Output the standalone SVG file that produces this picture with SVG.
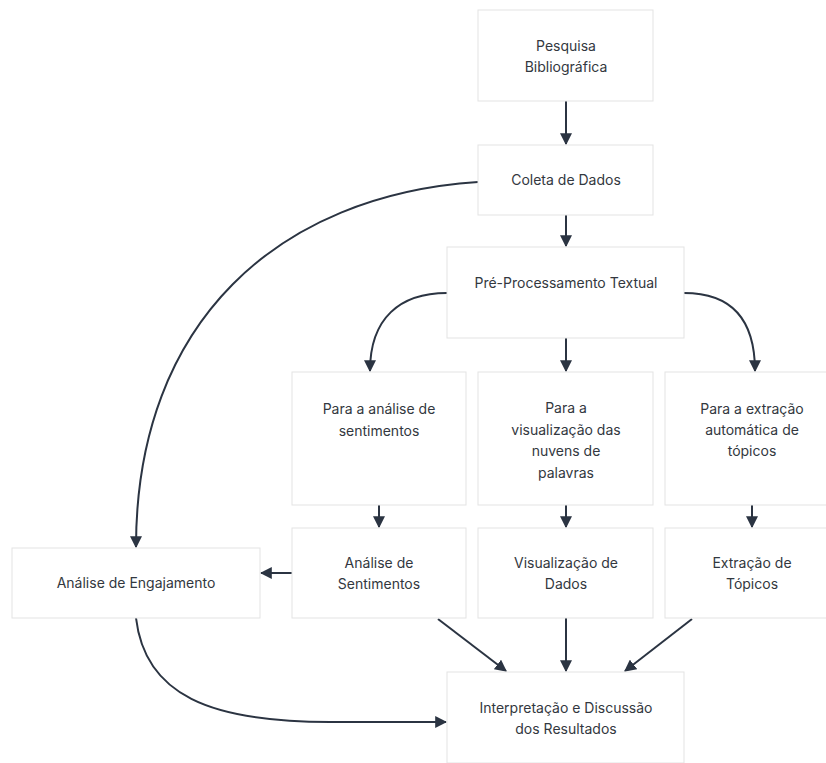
<svg xmlns="http://www.w3.org/2000/svg" width="826" height="763" viewBox="0 0 826 763">
<defs>
<style>
.box{fill:#ffffff;stroke:#e3e3e3;stroke-width:1}
.t{font-family:Inter,"Noto Sans","Liberation Sans",sans-serif;font-size:14px;fill:#333840;text-anchor:middle}
.e{fill:none;stroke:#2b3442;stroke-width:2}
</style>
<marker id="ah" viewBox="0 0 10 10" refX="9" refY="5" markerWidth="6" markerHeight="6" orient="auto" markerUnits="strokeWidth">
<path d="M0,0 L10,5 L0,10 z" fill="#2b3442"/>
</marker>
</defs>
<rect width="826" height="763" fill="#ffffff"/>
<g id="connectors">
<path class="e" d="M566,101 L566,144" marker-end="url(#ah)"/>
<path class="e" d="M566,215 L566,246" marker-end="url(#ah)"/>
<path class="e" d="M447,293 C400,293 370,318 370,371" marker-end="url(#ah)"/>
<path class="e" d="M566,338 L566,371" marker-end="url(#ah)"/>
<path class="e" d="M684,293 C731,293 755,318 755,371" marker-end="url(#ah)"/>
<path class="e" d="M379,505 L379,527" marker-end="url(#ah)"/>
<path class="e" d="M566,505 L566,527" marker-end="url(#ah)"/>
<path class="e" d="M752,505 L752,527" marker-end="url(#ah)"/>
<path class="e" d="M292,573 L261,573" marker-end="url(#ah)"/>
<path class="e" d="M478,182 C280,195 136,320 136,547" marker-end="url(#ah)"/>
<path class="e" d="M136,618 C145,695 210,722 330,722 L446,722" marker-end="url(#ah)"/>
<path class="e" d="M438,619 L506,671" marker-end="url(#ah)"/>
<path class="e" d="M566,618 L566,671" marker-end="url(#ah)"/>
<path class="e" d="M692,619 L625,671" marker-end="url(#ah)"/>
</g>
<g id="n1"><rect class="box" x="478" y="10" width="175" height="91"/><text class="t" x="566" y="51">Pesquisa</text><text class="t" x="566" y="72">Bibliográfica</text></g>
<g id="n2"><rect class="box" x="478" y="145" width="175" height="70"/><text class="t" x="566" y="185">Coleta de Dados</text></g>
<g id="n3"><rect class="box" x="447" y="247" width="237" height="91"/><text class="t" x="566" y="288">Pré-Processamento Textual</text></g>
<g id="n4"><rect class="box" x="292" y="372" width="174" height="133"/><text class="t" x="379" y="414">Para a análise de</text><text class="t" x="379" y="436">sentimentos</text></g>
<g id="n5"><rect class="box" x="478" y="372" width="175" height="133"/><text class="t" x="566" y="413">Para a</text><text class="t" x="566" y="435">visualização das</text><text class="t" x="566" y="456">nuvens de</text><text class="t" x="566" y="478">palavras</text></g>
<g id="n6"><rect class="box" x="665" y="372" width="175" height="133"/><text class="t" x="752" y="414">Para a extração</text><text class="t" x="752" y="435">automática de</text><text class="t" x="752" y="456">tópicos</text></g>
<g id="n7"><rect class="box" x="292" y="528" width="174" height="90"/><text class="t" x="379" y="568">Análise de</text><text class="t" x="379" y="589">Sentimentos</text></g>
<g id="n8"><rect class="box" x="478" y="528" width="175" height="90"/><text class="t" x="566" y="568">Visualização de</text><text class="t" x="566" y="589">Dados</text></g>
<g id="n9"><rect class="box" x="665" y="528" width="175" height="90"/><text class="t" x="752" y="568">Extração de</text><text class="t" x="752" y="589">Tópicos</text></g>
<g id="n10"><rect class="box" x="12" y="548" width="248" height="70"/><text class="t" x="136" y="588">Análise de Engajamento</text></g>
<g id="n11"><rect class="box" x="447" y="672" width="237" height="91"/><text class="t" x="566" y="713">Interpretação e Discussão</text><text class="t" x="566" y="734">dos Resultados</text></g>
</svg>
